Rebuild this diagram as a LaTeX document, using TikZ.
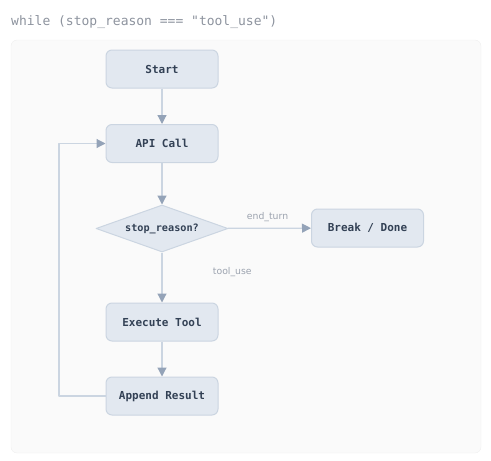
\documentclass[tikz,border=0pt]{standalone}
\usepackage{fontspec}
\setmainfont{DejaVu Sans}
\setmonofont{DejaVu Sans Mono}
\usetikzlibrary{arrows.meta,shapes.geometric,positioning}
\definecolor{panelfill}{HTML}{FAFAFA}
\definecolor{panelline}{HTML}{EFEFEF}
\definecolor{boxfill}{HTML}{E2E8F0}
\definecolor{boxline}{HTML}{CBD5E1}
\definecolor{boxtext}{HTML}{334155}
\definecolor{tipcol}{HTML}{94A3B8}
\definecolor{capcol}{HTML}{9CA3AF}
\tikzset{stepbox/.style={draw=boxline,fill=boxfill,rounded corners=6pt,line width=1pt,minimum width=112pt,minimum height=38pt,inner sep=0pt,text=boxtext,font=\ttfamily\bfseries\fontsize{11}{13}\selectfont},
  flow/.style={draw=boxline,line width=1.2pt,-{Triangle[length=9pt,width=9pt,color=tipcol]}},
  lbl/.style={text=capcol,font=\fontsize{9.3}{11}\selectfont}}

\begin{document}
\begin{tikzpicture}[x=1pt,y=-1pt,line join=round]
\useasboundingbox (0,0) rectangle (491,461);
% --- panel and loop title
\draw[panelline,fill=panelfill,rounded corners=6pt] (11,40) rectangle (481,453);
\node[anchor=west,inner sep=0pt,text=capcol!90!black,font=\ttfamily\fontsize{13}{15}\selectfont] (title) at (11,22) {while (stop\_reason === "tool\_use")};
% --- nodes
\node[stepbox] (start) at (162,69) {Start};
\node[stepbox] (api) at (162,143.5) {API Call};
\node[diamond,draw=boxline,fill=boxfill,line width=1pt,aspect=2.8,minimum width=132pt,minimum height=47pt,inner sep=0pt,text=boxtext,font=\ttfamily\bfseries\fontsize{10.2}{12}\selectfont] (why) at (162,228.5) {stop\_reason?};
\node[stepbox] (done) at (367.5,228) {Break / Done};
\node[stepbox] (exec) at (162,322) {Execute Tool};
\node[stepbox] (append) at (162,396) {Append Result};
% --- connectors
\draw[flow] (start) -- (api);
\draw[flow] (api) -- (why);
\draw[flow] (why) -- (done) node[lbl,midway,above=3pt,xshift=-2pt] {end\_turn};
\draw[flow] (why) -- (exec) node[lbl,midway,right=47pt,yshift=5pt] {tool\_use};
\draw[flow] (exec) -- (append);
\draw[flow] (append.west) -- (59,396) -- (59,143.5) -- (api.west);
\end{tikzpicture}
\end{document}
